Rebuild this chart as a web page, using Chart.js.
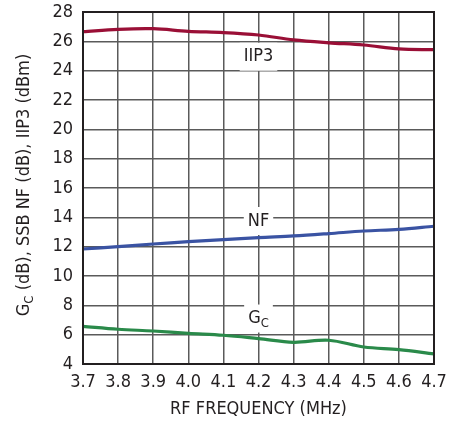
<!DOCTYPE html>
<html>
<head>
<meta charset="utf-8">
<script src="https://cdn.jsdelivr.net/npm/chart.js@4/dist/chart.umd.min.js"></script>
<style>
  html, body { margin: 0; padding: 0; background: #fff; }
  canvas { display: block; }
</style>
</head>
<body>
<canvas id="chart" width="461" height="422"></canvas>
<script>
(function () {
  var frequencies = ["3.7", "3.8", "3.9", "4.0", "4.1", "4.2", "4.3", "4.4", "4.5", "4.6", "4.7"];
  var iip3 = [26.66, 26.82, 26.86, 26.68, 26.6, 26.43, 26.1, 25.9, 25.75, 25.48, 25.43];
  var nf = [11.84, 12.0, 12.18, 12.34, 12.48, 12.62, 12.73, 12.89, 13.07, 13.18, 13.39];
  var gc = [6.57, 6.37, 6.25, 6.09, 5.96, 5.73, 5.48, 5.62, 5.16, 4.98, 4.69];

  // curve labels: text, subscript, category anchor, value anchor
  var labelNames = ["IIP3", "NF", "G"];
  var labelSubs = ["", "", "C"];
  var labelAtX = ["4.2", "4.2", "4.2"];
  var labelAtY = [24.95, 13.75, 7.1];

  var fontFamily = '"Liberation Sans Narrow", "DejaVu Sans Condensed", sans-serif';
  var ink = "#231f20";
  var gridColor = "#5a5a5a";

  function drawRich(ctx, parts, x, y, size) {
    // parts: [{t, sub}] drawn left-to-right centered on x
    var total = 0;
    parts.forEach(function (p) {
      ctx.font = (p.sub ? size * 0.72 : size) + "px " + fontFamily;
      p.w = ctx.measureText(p.t).width;
      total += p.w;
    });
    var cx = x - total / 2;
    ctx.textAlign = "left";
    ctx.textBaseline = "middle";
    parts.forEach(function (p) {
      ctx.font = (p.sub ? size * 0.72 : size) + "px " + fontFamily;
      ctx.fillText(p.t, cx, p.sub ? y + size * 0.3 : y);
      cx += p.w;
    });
    return total;
  }

  var decorations = {
    id: "decorations",
    afterDraw: function (chart) {
      var ctx = chart.ctx;
      var area = chart.chartArea;
      var xs = chart.scales.x;
      var ys = chart.scales.y;
      ctx.save();

      // frame
      ctx.strokeStyle = ink;
      ctx.lineWidth = 2;
      ctx.strokeRect(area.left, area.top, area.right - area.left, area.bottom - area.top);

      // curve labels with white boxes
      ctx.fillStyle = ink;
      labelNames.forEach(function (name, i) {
        var px = xs.getPixelForValue(frequencies.indexOf(labelAtX[i]));
        var py = ys.getPixelForValue(labelAtY[i]);
        var parts = [{ t: name, sub: false }];
        if (labelSubs[i]) parts.push({ t: labelSubs[i], sub: true });
        var w = 0;
        parts.forEach(function (p) {
          ctx.font = (p.sub ? 18 * 0.72 : 18) + "px " + fontFamily;
          w += ctx.measureText(p.t).width;
        });
        ctx.fillStyle = "#fff";
        ctx.fillRect(px - w / 2 - 4, py - 14, w + 8, 28);
        ctx.fillStyle = ink;
        drawRich(ctx, parts, px, py, 18);
      });

      // x axis title
      ctx.fillStyle = ink;
      drawRich(ctx, [{ t: "RF FREQUENCY (MHz)", sub: false }], (area.left + area.right) / 2, area.bottom + 45, 18);

      // y axis title, rotated
      ctx.translate(24, (area.top + area.bottom) / 2 - 3);
      ctx.rotate(-Math.PI / 2);
      drawRich(ctx, [
        { t: "G", sub: false },
        { t: "C", sub: true },
        { t: " (dB), SSB NF (dB), IIP3 (dBm)", sub: false }
      ], 0, 0, 18);

      ctx.restore();
    }
  };

  function lineSet(label, data, color) {
    return {
      label: label,
      data: data,
      borderColor: color,
      backgroundColor: color,
      borderWidth: 3.2,
      pointRadius: 0,
      tension: 0.35,
      fill: false
    };
  }

  new Chart(document.getElementById("chart"), {
    type: "line",
    data: {
      labels: frequencies,
      datasets: [
        lineSet("IIP3", iip3, "#9a0f36"),
        lineSet("NF", nf, "#3a53a3"),
        lineSet("GC", gc, "#2a8a4a")
      ]
    },
    options: {
      responsive: false,
      animation: false,
      devicePixelRatio: 1,
      layout: { padding: { top: 12, right: 27, left: 0, bottom: 0 } },
      plugins: {
        legend: { display: false },
        tooltip: { enabled: false }
      },
      scales: {
        x: {
          type: "category",
          offset: false,
          grid: { color: gridColor, lineWidth: 1.5, drawTicks: false },
          border: { display: false },
          ticks: {
            color: ink,
            font: { family: fontFamily, size: 18 },
            padding: 8,
            maxRotation: 0,
            autoSkip: false
          },
          afterFit: function (scale) {
            scale.height = 58;
            scale.paddingLeft = 0;
            scale.paddingRight = 0;
          }
        },
        y: {
          min: 4,
          max: 28,
          grid: { color: gridColor, lineWidth: 1.5, drawTicks: false },
          border: { display: false },
          ticks: {
            stepSize: 2,
            color: ink,
            font: { family: fontFamily, size: 18 },
            padding: 10
          },
          afterFit: function (scale) {
            scale.width = 83;
            scale.paddingTop = 0;
            scale.paddingBottom = 0;
          }
        }
      }
    },
    plugins: [decorations]
  });
})();
</script>
</body>
</html>
